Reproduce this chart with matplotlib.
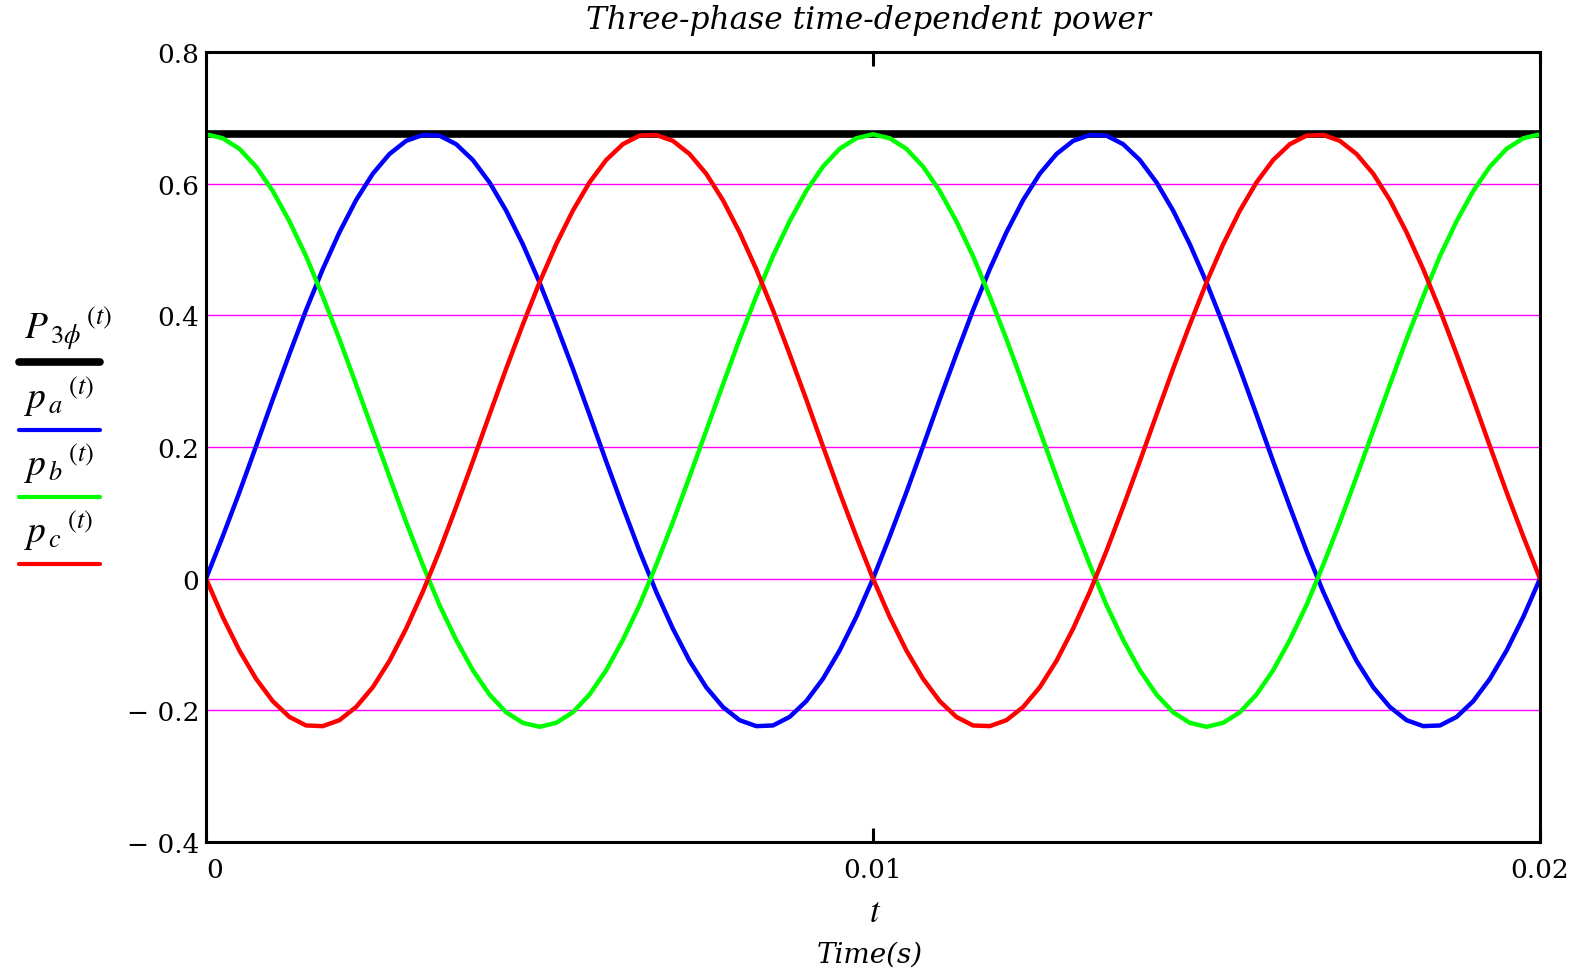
import numpy as np
import matplotlib.pyplot as plt
from matplotlib.lines import Line2D

plt.rcParams['mathtext.fontset'] = 'stix'

# sample times (s), one every 0.25 ms over two 100 Hz cycles
t = np.linspace(0, 0.02, 81)

# instantaneous phase powers
pa = [0.000, 0.064, 0.131, 0.201, 0.272, 0.341, 0.408, 0.470, 0.526, 0.575,
      0.615, 0.645, 0.665, 0.674, 0.673, 0.660, 0.636, 0.602, 0.559, 0.508,
      0.450, 0.386, 0.319, 0.249, 0.178, 0.109, 0.042, -0.020, -0.076, -0.125,
      -0.165, -0.195, -0.215, -0.224, -0.223, -0.210, -0.186, -0.152, -0.109, -0.058,
      0.000, 0.064, 0.131, 0.201, 0.272, 0.341, 0.408, 0.470, 0.526, 0.575,
      0.615, 0.645, 0.665, 0.674, 0.673, 0.660, 0.636, 0.602, 0.559, 0.508,
      0.450, 0.386, 0.319, 0.249, 0.178, 0.109, 0.042, -0.020, -0.076, -0.125,
      -0.165, -0.195, -0.215, -0.224, -0.223, -0.210, -0.186, -0.152, -0.109, -0.058,
      0.000]
pb = [0.675, 0.669, 0.653, 0.626, 0.589, 0.543, 0.490, 0.429, 0.364, 0.295,
      0.225, 0.155, 0.086, 0.021, -0.040, -0.093, -0.139, -0.176, -0.203, -0.219,
      -0.225, -0.219, -0.203, -0.176, -0.139, -0.093, -0.040, 0.021, 0.086, 0.155,
      0.225, 0.295, 0.364, 0.429, 0.490, 0.543, 0.589, 0.626, 0.653, 0.669,
      0.675, 0.669, 0.653, 0.626, 0.589, 0.543, 0.490, 0.429, 0.364, 0.295,
      0.225, 0.155, 0.086, 0.021, -0.040, -0.093, -0.139, -0.176, -0.203, -0.219,
      -0.225, -0.219, -0.203, -0.176, -0.139, -0.093, -0.040, 0.021, 0.086, 0.155,
      0.225, 0.295, 0.364, 0.429, 0.490, 0.543, 0.589, 0.626, 0.653, 0.669,
      0.675]
pc = [0.000, -0.058, -0.109, -0.152, -0.186, -0.210, -0.223, -0.224, -0.215, -0.195,
      -0.165, -0.125, -0.076, -0.020, 0.042, 0.109, 0.178, 0.249, 0.319, 0.386,
      0.450, 0.508, 0.559, 0.602, 0.636, 0.660, 0.673, 0.674, 0.665, 0.645,
      0.615, 0.575, 0.526, 0.470, 0.408, 0.341, 0.272, 0.201, 0.131, 0.064,
      0.000, -0.058, -0.109, -0.152, -0.186, -0.210, -0.223, -0.224, -0.215, -0.195,
      -0.165, -0.125, -0.076, -0.020, 0.042, 0.109, 0.178, 0.249, 0.319, 0.386,
      0.450, 0.508, 0.559, 0.602, 0.636, 0.660, 0.673, 0.674, 0.665, 0.645,
      0.615, 0.575, 0.526, 0.470, 0.408, 0.341, 0.272, 0.201, 0.131, 0.064,
      0.000]
# total three-phase power is constant
t3 = [0.0, 0.02]
p3 = [0.675, 0.675]

yticks = [-0.4, -0.2, 0, 0.2, 0.4, 0.6, 0.8]
ylabels = ['\u2212 0.4', '\u2212 0.2', '0', '0.2', '0.4', '0.6', '0.8']
xticks = [0, 0.01, 0.02]
xlabels = ['0', '0.01', '0.02']

legend_labels = [r'$P_{\,3\phi}\,{}^{(t)}$', r'$p_{\,a}\,{}^{(t)}$',
                 r'$p_{\,b}\,{}^{(t)}$', r'$p_{\,c}\,{}^{(t)}$']
legend_colors = ['black', '#0000ff', '#00ff00', '#ff0000']
legend_widths = [5.5, 3, 3, 3]

W, H = 1592, 970
fig = plt.figure(figsize=(W / 100, H / 100), dpi=100)
ax = fig.add_axes([206 / W, 1 - 843 / H, (1540 - 206) / W, (843 - 53) / H])

ax.plot(t3, p3, color='black', lw=5.5, solid_capstyle='butt')
ax.plot(t, pa, color='#0000ff', lw=3.2)
ax.plot(t, pb, color='#00ff00', lw=3.2)
ax.plot(t, pc, color='#ff0000', lw=3.2)

for y in [-0.2, 0, 0.2, 0.4, 0.6]:
    ax.axhline(y, color='#ff00ff', lw=1, zorder=0)

ax.set_xlim(0, 0.02)
ax.set_ylim(-0.4, 0.8)
for s in ax.spines.values():
    s.set_linewidth(2.2)

tickfont = dict(family='DejaVu Serif', size=19)
ax.set_yticks(yticks)
ax.set_yticklabels(ylabels, **tickfont)
ax.tick_params(axis='y', length=0, pad=5)
ax.set_xticks(xticks)
ax.set_xticklabels(xlabels, **tickfont)
for lab in ax.get_xticklabels()[:1]:
    lab.set_ha('left')
ax.tick_params(axis='x', direction='in', length=10, width=2.2, top=True, pad=11)

fig.text(868 / W, 1 - 21 / H, 'Three-phase time-dependent power', ha='center',
         va='center', family='DejaVu Serif', style='italic', size=22.5)
fig.text(875 / W, 1 - 912 / H, r'$t$', ha='center', va='center', size=25)
fig.text(870 / W, 1 - 955 / H, 'Time(s)', ha='center', va='center',
         family='DejaVu Serif', style='italic', size=20)

# legend stacked at the left: label above its line sample
line_y = [363, 431, 498, 565]
for lab, c, w, y in zip(legend_labels, legend_colors, legend_widths, line_y):
    fig.text(24 / W, 1 - (y - 34) / H, lab, ha='left', va='center', size=27)
    fig.add_artist(Line2D([19 / W, 100 / W], [1 - y / H, 1 - y / H],
                          color=c, lw=w, solid_capstyle='round'))

fig.savefig('out.png', dpi=100)
